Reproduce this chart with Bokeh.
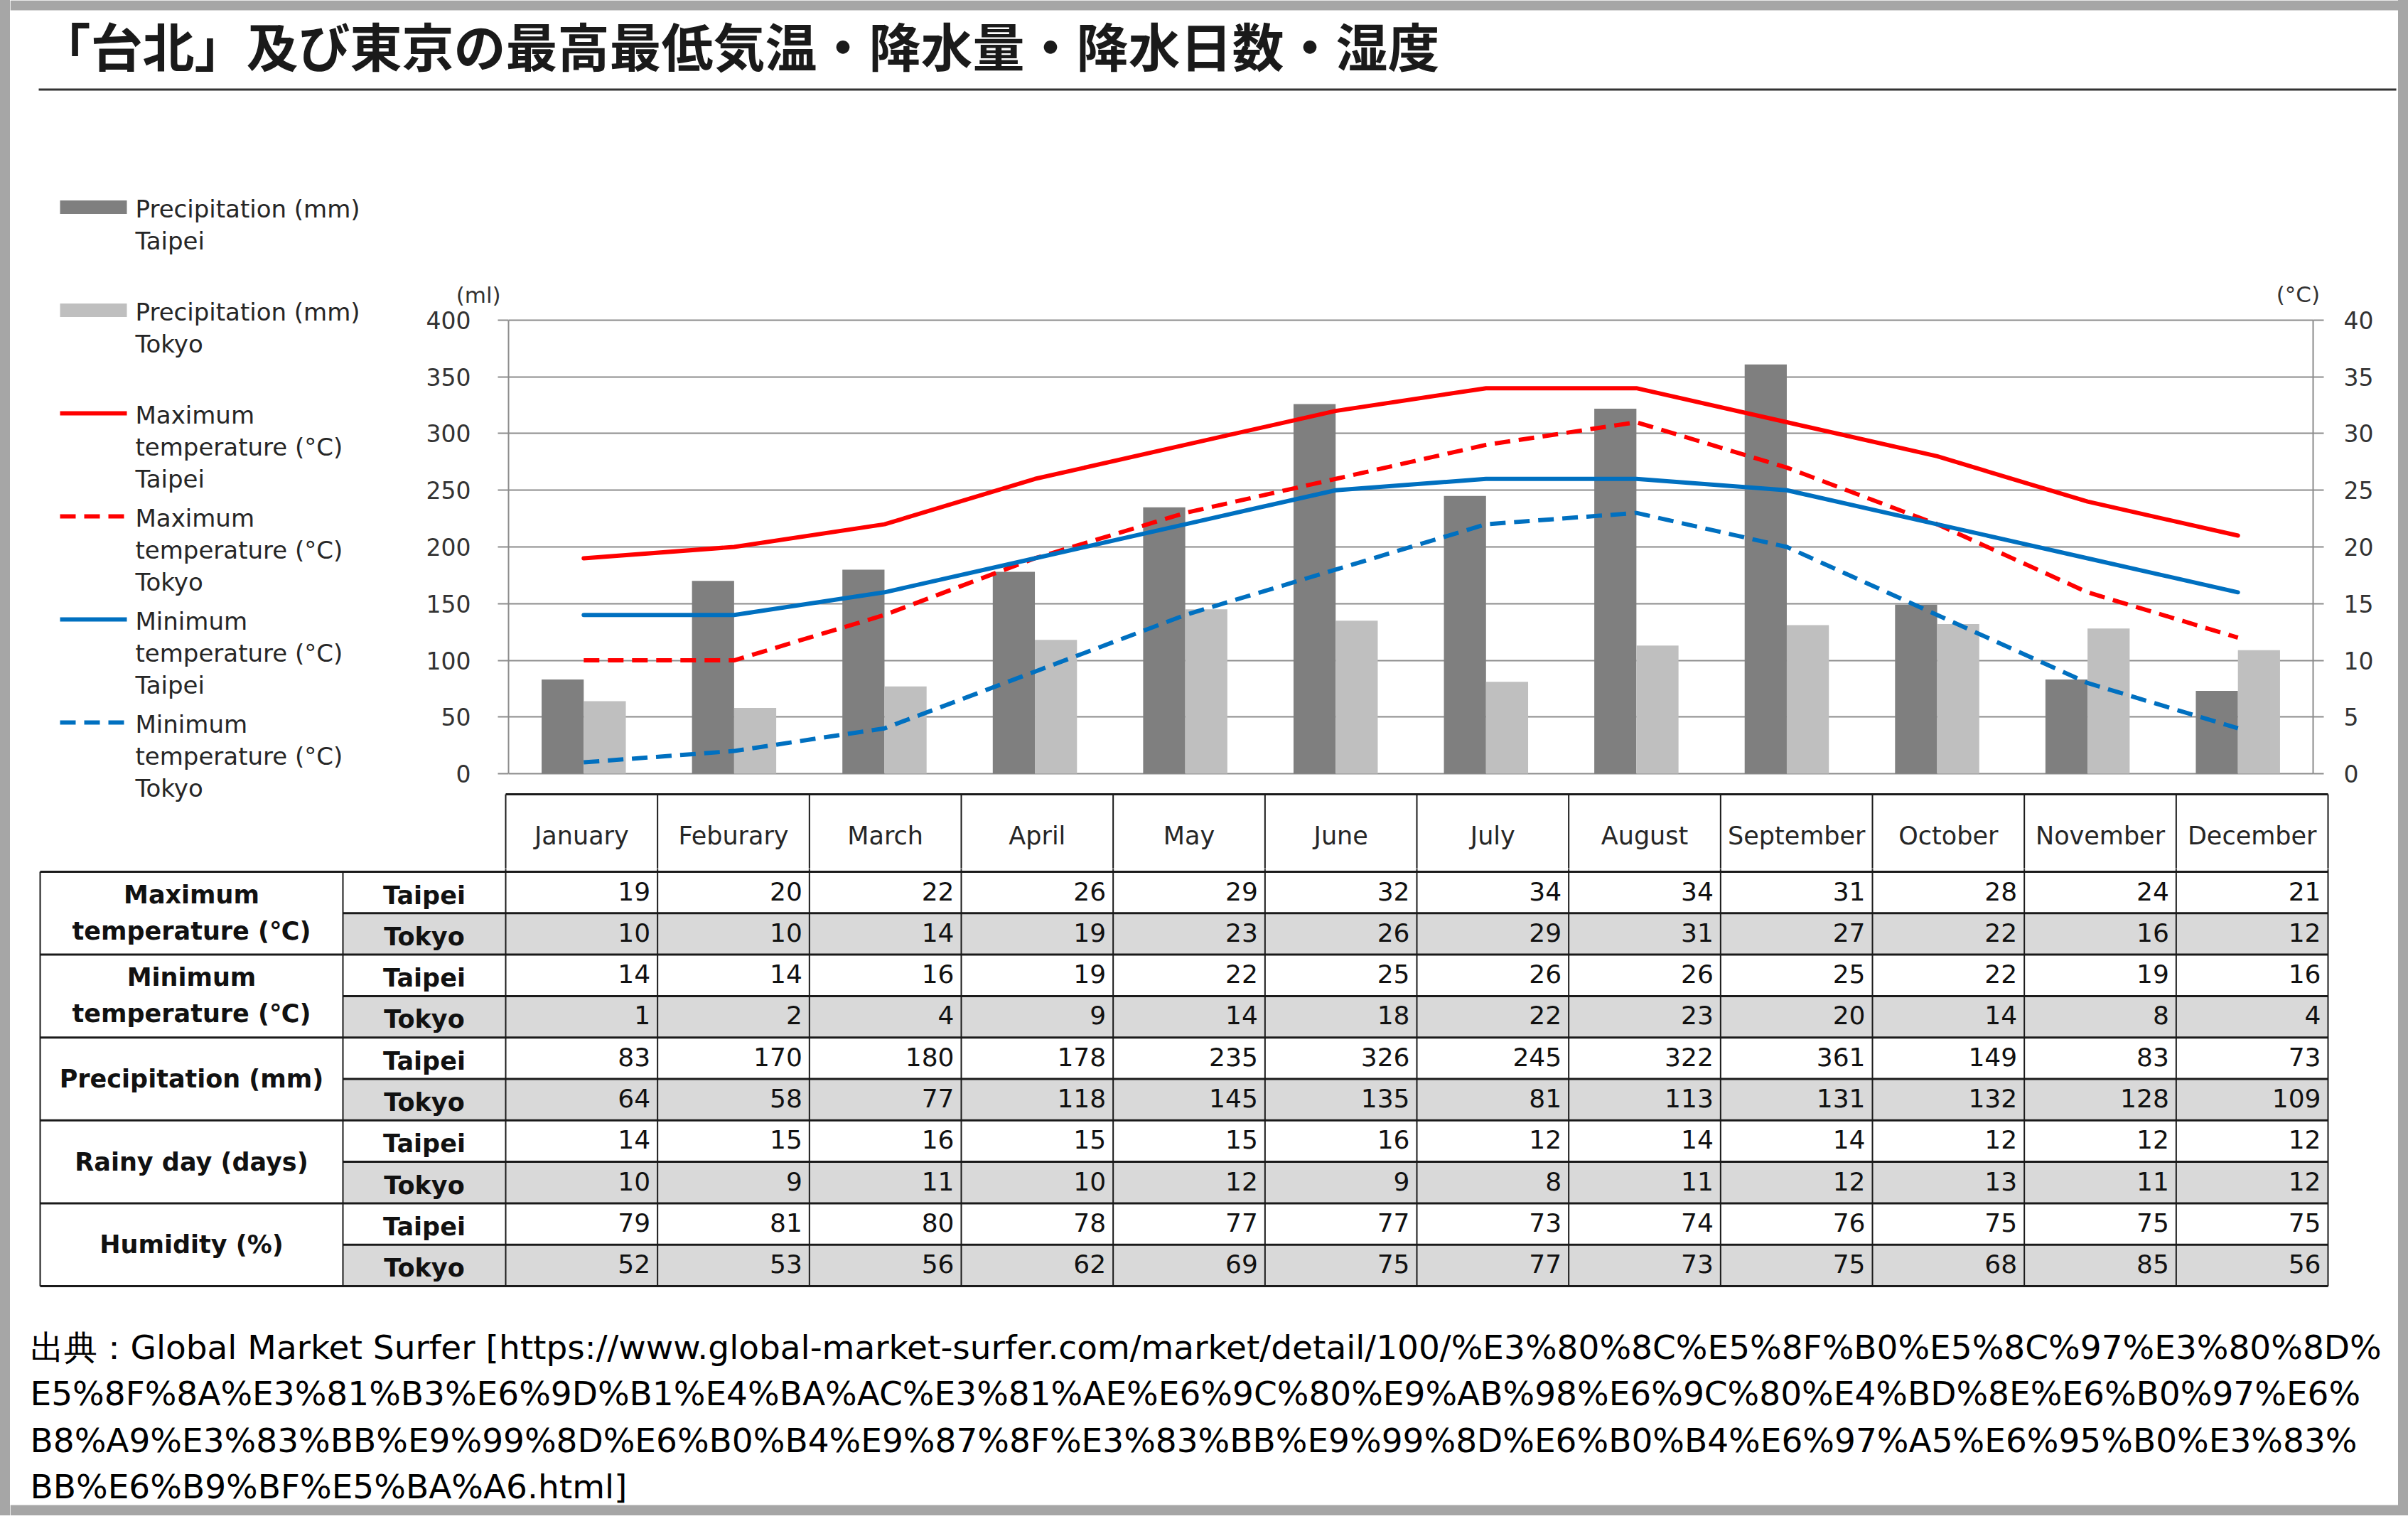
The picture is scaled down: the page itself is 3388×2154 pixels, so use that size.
from bokeh.plotting import figure
from bokeh.models import (Range1d, FactorRange, LinearAxis, SingleIntervalTicker,
                          ColumnDataSource, Spacer, Plot, Label)
from bokeh.layouts import column, row
from bokeh.transform import dodge
from bokeh.embed import file_html
from bokeh.resources import INLINE
from bokeh.core.properties import value

# ---------------- data ----------------
months = ["January", "Feburary", "March", "April", "May", "June", "July",
          "August", "September", "October", "November", "December"]
max_taipei = [19, 20, 22, 26, 29, 32, 34, 34, 31, 28, 24, 21]
max_tokyo = [10, 10, 14, 19, 23, 26, 29, 31, 27, 22, 16, 12]
min_taipei = [14, 14, 16, 19, 22, 25, 26, 26, 25, 22, 19, 16]
min_tokyo = [1, 2, 4, 9, 14, 18, 22, 23, 20, 14, 8, 4]
prec_taipei = [83, 170, 180, 178, 235, 326, 245, 322, 361, 149, 83, 73]
prec_tokyo = [64, 58, 77, 118, 145, 135, 81, 113, 131, 132, 128, 109]
rain_taipei = [14, 15, 16, 15, 15, 16, 12, 14, 14, 12, 12, 12]
rain_tokyo = [10, 9, 11, 10, 12, 9, 8, 11, 12, 13, 11, 12]
hum_taipei = [79, 81, 80, 78, 77, 77, 73, 74, 76, 75, 75, 75]
hum_tokyo = [52, 53, 56, 62, 69, 75, 77, 73, 75, 68, 85, 56]

cities = ["Taipei", "Tokyo"]
group_labels = [["Maximum", "temperature (℃)"],
                ["Minimum", "temperature (℃)"],
                ["Precipitation (mm)"],
                ["Rainy day (days)"],
                ["Humidity (%)"]]
table_rows = [max_taipei, max_tokyo, min_taipei, min_tokyo, prec_taipei,
              prec_tokyo, rain_taipei, rain_tokyo, hum_taipei, hum_tokyo]

legend_labels = [["Precipitation (mm)", "Taipei"],
                 ["Precipitation (mm)", "Tokyo"],
                 ["Maximum", "temperature (°C)", "Taipei"],
                 ["Maximum", "temperature (°C)", "Tokyo"],
                 ["Minimum", "temperature (°C)", "Taipei"],
                 ["Minimum", "temperature (°C)", "Tokyo"]]

left_unit = "(ml)"
right_unit = "(°C)"
title_text = "「台北」及び東京の最高最低気温・降水量・降水日数・湿度"
source_lines = [
    "出典：Global Market Surfer [https://www.global-market-surfer.com/market/detail/100/%E3%80%8C%E5%8F%B0%E5%8C%97%E3%80%8D%",
    "E5%8F%8A%E3%81%B3%E6%9D%B1%E4%BA%AC%E3%81%AE%E6%9C%80%E9%AB%98%E6%9C%80%E4%BD%8E%E6%B0%97%E6%",
    "B8%A9%E3%83%BB%E9%99%8D%E6%B0%B4%E9%87%8F%E3%83%BB%E9%99%8D%E6%B0%B4%E6%97%A5%E6%95%B0%E3%83%",
    "BB%E6%B9%BF%E5%BA%A6.html]",
]

# ---------------- styles ----------------
FONT = "DejaVu Sans"
JP = "Noto Sans CJK JP"
DARK_BAR = "#7f7f7f"
LIGHT_BAR = "#bfbfbf"
RED = "#ff0000"
BLUE = "#0070c0"
GRID = "#8c8c8c"
TXT = "#262626"
DASH = "22 12"
FRAME_GREY = "#a6a6a6"
LINE_C = "#1a1a1a"

W_IN = 3360  # content width (x 14..3374)
EXTRA = {"frame_align": False} if "frame_align" in Plot.properties() else {}


def blank(w, h, x0, y0):
    """Figure whose data coordinates equal page pixels (y downwards)."""
    f = figure(width=w, height=h, x_range=Range1d(x0, x0 + w),
               y_range=Range1d(y0 + h, y0), title=None,
               x_axis_location=None, y_axis_location=None,
               toolbar_location=None, output_backend="svg",
               min_border=0, outline_line_color=None,
               background_fill_color="white", border_fill_color="white",
               **EXTRA)
    f.grid.visible = False
    return f


# vertical layout (page pixels)
Y_TITLE, Y_TOP, Y_HDR, Y_TAB, Y_FOOT, Y_WHITE_END, Y_END = \
    0, 140, 1110, 1222, 1815, 2117, 2132
X_SPLIT = 574

# ---------------- title (with top frame strip) ----------------
tf = blank(W_IN, Y_TOP - Y_TITLE, 14, Y_TITLE)
tf.quad(left=[14], right=[3374], top=[0], bottom=[14],
        fill_color=FRAME_GREY, line_color=None)
tf.text(x=[54], y=[61], text=[title_text], text_font=value(JP),
        text_font_style="bold", text_font_size=value("73px"),
        text_color="#1a1a1a", text_baseline="alphabetic", text_align="left")
tf.quad(left=[54], right=[3371], top=[124], bottom=[127],
        fill_color="#333333", line_color=None)

# ---------------- legend ----------------
lf = blank(X_SPLIT - 14, Y_TAB - Y_TOP, 14, Y_TOP)
leg_y0, leg_step = 291, 145
swatch_l, swatch_r = 84, 178
item_y = [leg_y0 + i * leg_step for i in range(len(legend_labels))]
lf.quad(left=[swatch_l] * 2, right=[swatch_r] * 2,
        top=[item_y[0] - 9.5, item_y[1] - 9.5],
        bottom=[item_y[0] + 9.5, item_y[1] + 9.5],
        fill_color=[DARK_BAR, LIGHT_BAR], line_color=None)
line_styles = [(RED, "solid"), (RED, DASH), (BLUE, "solid"), (BLUE, DASH)]
for (col, dash), yc in zip(line_styles, item_y[2:]):
    lf.segment(x0=[swatch_l], y0=[yc], x1=[swatch_r], y1=[yc],
               line_color=col, line_width=6, line_dash=dash)
lx, ly, ltxt = [], [], []
for yc, lines in zip(item_y, legend_labels):
    for k, t in enumerate(lines):
        lx.append(190)
        ly.append(yc + 2 + 45 * k)
        ltxt.append(t)
lf.text(x=lx, y=ly, text=ltxt, text_font=value(FONT),
        text_font_size=value("34px"), text_color=TXT,
        text_baseline="alphabetic", text_align="left")

# ---------------- chart ----------------
CH_TOP_BORDER = 308
src = ColumnDataSource(dict(month=months, pt=prec_taipei, pk=prec_tokyo,
                            xt=max_taipei, xk=max_tokyo,
                            nt=min_taipei, nk=min_tokyo))
cf = figure(width=3374 - X_SPLIT, height=Y_HDR - Y_TOP, title=None,
            x_range=FactorRange(factors=months),
            y_range=Range1d(-1.25, 401.25),
            x_axis_location=None, y_axis_location="left",
            toolbar_location=None, output_backend="svg",
            min_border_left=141, min_border_right=120,
            min_border_top=CH_TOP_BORDER, min_border_bottom=20,
            outline_line_color=None,
            background_fill_color="white", border_fill_color="white",
            **EXTRA)
cf.extra_y_ranges = {"t": Range1d(-0.125, 40.125)}

cf.vbar(x=dodge("month", -0.14, range=cf.x_range), top="pt", width=0.28,
        source=src, fill_color=DARK_BAR, line_color=None)
cf.vbar(x=dodge("month", 0.14, range=cf.x_range), top="pk", width=0.28,
        source=src, fill_color=LIGHT_BAR, line_color=None)
cf.line(x="month", y="xt", source=src, y_range_name="t", line_color=RED,
        line_width=6, line_cap="round", line_join="round")
cf.line(x="month", y="xk", source=src, y_range_name="t", line_color=RED,
        line_width=6, line_dash=DASH)
cf.line(x="month", y="nt", source=src, y_range_name="t", line_color=BLUE,
        line_width=6, line_cap="round", line_join="round")
cf.line(x="month", y="nk", source=src, y_range_name="t", line_color=BLUE,
        line_width=6, line_dash=DASH)

right_axis = LinearAxis(y_range_name="t")
cf.add_layout(right_axis, "right")
for ax, interval, bounds, standoff in ((cf.yaxis[0], 50, (0, 400), 38),
                                       (right_axis, 5, (0, 40), 28)):
    ax.ticker = SingleIntervalTicker(interval=interval, num_minor_ticks=0)
    ax.bounds = bounds
    ax.axis_line_color = GRID
    ax.axis_line_width = 2
    ax.major_tick_line_color = GRID
    ax.major_tick_line_width = 2
    ax.major_tick_out = 15
    ax.major_tick_in = 0
    ax.minor_tick_line_color = None
    ax.major_label_standoff = standoff
    ax.major_label_text_font = FONT
    ax.major_label_text_font_size = "33px"
    ax.major_label_text_color = "#333333"

cf.xgrid.visible = False
cf.ygrid.ticker = SingleIntervalTicker(interval=50, num_minor_ticks=0)
cf.ygrid.grid_line_color = GRID
cf.ygrid.grid_line_width = 2

# unit captions just above the top gridline (positions in axis units);
# placed in the "above" side panel so they are not clipped to the frame
cf.add_layout(Label(x=-0.2, y=422, text=left_unit, text_align="center",
                    text_baseline="middle", text_font=FONT,
                    text_font_size="31px", text_color="#333333"), "above")
cf.add_layout(Label(x=11.9, y=42.3, y_range_name="t", text=right_unit,
                    text_align="center", text_baseline="middle",
                    text_font=FONT, text_font_size="31px",
                    text_color="#333333"), "above")

# ---------------- table geometry ----------------
C_LAB, C_CITY, C_M0, C_RIGHT = 56, 482, 711, 3275
HDR_TOP, ROW_TOP = 1117, 1226
ROW_H = (1809 - ROW_TOP) / len(table_rows)
MW = (C_RIGHT - C_M0) / len(months)
month_edges = [C_M0 + k * MW for k in range(len(months) + 1)]

# ---------------- table header (month names) ----------------
hf = blank(3374 - X_SPLIT, Y_TAB - Y_HDR, X_SPLIT, Y_HDR)
hf.segment(x0=[C_M0], y0=[HDR_TOP], x1=[C_RIGHT], y1=[HDR_TOP],
           line_color=LINE_C, line_width=3)
hf.segment(x0=month_edges, y0=[HDR_TOP] * len(month_edges), x1=month_edges,
           y1=[Y_TAB] * len(month_edges), line_color=LINE_C, line_width=2)
hf.text(x=[C_M0 + (k + 0.5) * MW for k in range(len(months))],
        y=[1175] * len(months), text=months, text_font=value(FONT),
        text_font_size=value("35px"), text_color=TXT,
        text_align="center", text_baseline="alphabetic")

# ---------------- table body ----------------
tb = blank(W_IN, Y_FOOT - Y_TAB, 14, Y_TAB)

tok_rows = [r for r in range(len(table_rows)) if r % 2 == 1]
tb.quad(left=[C_CITY] * len(tok_rows), right=[C_RIGHT] * len(tok_rows),
        top=[ROW_TOP + r * ROW_H for r in tok_rows],
        bottom=[ROW_TOP + (r + 1) * ROW_H for r in tok_rows],
        fill_color="#d9d9d9", line_color=None)

hx0, hx1, hy = [], [], []
for r in range(len(table_rows) + 1):
    hx0.append(C_LAB if r % 2 == 0 else C_CITY)
    hx1.append(C_RIGHT)
    hy.append(ROW_TOP + r * ROW_H)
tb.segment(x0=hx0, y0=hy, x1=hx1, y1=hy, line_color=LINE_C, line_width=3)

tab_bottom = ROW_TOP + len(table_rows) * ROW_H
vx = [C_LAB, C_CITY] + month_edges
vy0 = [ROW_TOP, ROW_TOP] + [Y_TAB] * len(month_edges)
tb.segment(x0=vx, y0=vy0, x1=vx, y1=[tab_bottom] * len(vx),
           line_color=LINE_C, line_width=2)

nx, ny, nt = [], [], []
for r, vals in enumerate(table_rows):
    for k, v in enumerate(vals):
        nx.append(month_edges[k + 1] - 10)
        ny.append(ROW_TOP + r * ROW_H + 27)
        nt.append(str(v))
tb.text(x=nx, y=ny, text=nt, text_font=value(FONT),
        text_font_size=value("36px"), text_color="#111111",
        text_align="right", text_baseline="alphabetic")

tb.text(x=[(C_CITY + C_M0) / 2] * len(table_rows),
        y=[ROW_TOP + r * ROW_H + 33 for r in range(len(table_rows))],
        text=[cities[r % 2] for r in range(len(table_rows))],
        text_font=value(FONT), text_font_style="bold",
        text_font_size=value("35px"), text_color="#111111",
        text_align="center", text_baseline="alphabetic")

gx, gy, gt = [], [], []
for g, lines in enumerate(group_labels):
    gc = ROW_TOP + (2 * g + 1) * ROW_H
    offs = [-26, 25] if len(lines) == 2 else [0]
    for t, o in zip(lines, offs):
        gx.append((C_LAB + C_CITY) / 2)
        gy.append(gc + o)
        gt.append(t)
tb.text(x=gx, y=gy, text=gt, text_font=value(FONT), text_font_style="bold",
        text_font_size=value("35px"), text_color="#111111",
        text_align="center", text_baseline="alphabetic")

# ---------------- source footer (with bottom frame strip) ----------------
ff = blank(W_IN, Y_END - Y_FOOT, 14, Y_FOOT)
ff.text(x=[42] * len(source_lines),
        y=[1895 + 65.3 * i for i in range(len(source_lines))],
        text=source_lines, text_font=value(FONT),
        text_font_size=value("47px"), text_color="#000000",
        text_align="left", text_baseline="alphabetic")
ff.quad(left=[14], right=[3374], top=[Y_WHITE_END], bottom=[Y_END],
        fill_color=FRAME_GREY, line_color=None)

# ---------------- assemble ----------------
grey = {"background-color": FRAME_GREY}
right_col = column(cf, hf)
content = column(tf, row(lf, right_col), tb, ff)
page = row(Spacer(width=14, height=Y_END, styles=grey), content,
           Spacer(width=14, height=Y_END, styles=grey))

open("out.html", "w").write(file_html(page, INLINE))
